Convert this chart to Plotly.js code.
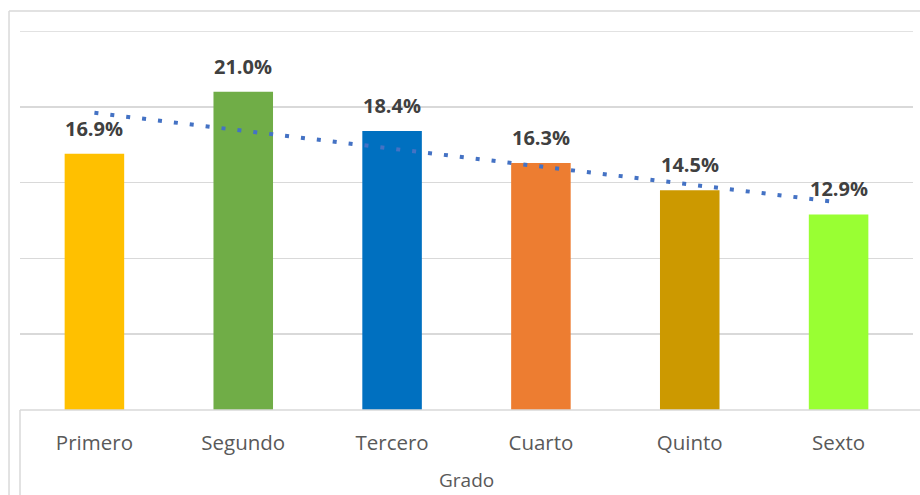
<!DOCTYPE html>
<html><head><meta charset="utf-8">
<script src="https://cdn.plot.ly/plotly-3.0.1.min.js"></script>
<style>html,body{margin:0;padding:0;background:#fff;}#chart{width:920px;height:495px;}</style>
</head><body><div id="chart"></div>
<script>
var categories = ['Primero', 'Segundo', 'Tercero', 'Cuarto', 'Quinto', 'Sexto'];
var values = [16.9, 21.0, 18.4, 16.3, 14.5, 12.9];
var barColors = ['#FFC000', '#70AD47', '#0070C0', '#ED7D31', '#CC9900', '#99FF33'];
var trendX = ['Primero', 'Sexto'];
var trendY = [19.6, 13.7];
var axisTitle = 'Grado';
var yMax = 25;

var bars = {
  type: 'bar', x: categories, y: values,
  marker: {color: barColors}, width: 0.4,
  hoverinfo: 'skip', showlegend: false
};
var trend = {
  type: 'scatter', mode: 'lines', x: trendX, y: trendY,
  line: {color: '#4472C4', width: 4, dash: '4px,12px'},
  hoverinfo: 'skip', showlegend: false
};
var annotations = categories.map(function(c, i){
  return {x: c, y: values[i], xref: 'x', yref: 'y', text: values[i].toFixed(1) + '%',
    showarrow: false, yanchor: 'bottom', yshift: 10,
    font: {family: 'Open Sans, sans-serif', size: 20, color: '#404040', weight: 'bold'}};
});
annotations.push({x: 0.5, y: 0, xref: 'paper', yref: 'paper', yanchor: 'top', yshift: -55,
  text: axisTitle, showarrow: false,
  font: {family: 'Open Sans, sans-serif', size: 19, color: '#595959'}});

var layout = {
  width: 920, height: 495,
  margin: {l: 20, r: 7, t: 31, b: 85},
  paper_bgcolor: '#ffffff', plot_bgcolor: '#ffffff',
  xaxis: {type: 'category', showgrid: false, zeroline: false, showline: false,
    ticks: '', ticklabelstandoff: 18,
    tickfont: {family: 'Open Sans, sans-serif', size: 20.5, color: '#595959'}},
  yaxis: {range: [0, yMax], dtick: 5, showticklabels: false, showgrid: true,
    gridcolor: '#D9D9D9', gridwidth: 1.5, zeroline: false, showline: false, ticks: ''},
  annotations: annotations,
  shapes: [
    {type: 'line', xref: 'paper', yref: 'y', x0: 0, x1: 1, y0: yMax, y1: yMax,
      line: {color: '#D9D9D9', width: 1.5}, layer: 'below'},
    {type: 'line', xref: 'paper', yref: 'paper', x0: -0.0123, x1: 1.02, y0: 1.0528, y1: 1.0528,
      line: {color: '#D9D9D9', width: 1.5}},
    {type: 'line', xref: 'paper', yref: 'paper', x0: -0.0123, x1: -0.0123, y0: 1.0528, y1: -0.3,
      line: {color: '#D9D9D9', width: 1.5}},
    {type: 'line', xref: 'paper', yref: 'paper', x0: 0, x1: 1.02, y0: 0, y1: 0,
      line: {color: '#D9D9D9', width: 1.5}},
    {type: 'line', xref: 'paper', yref: 'paper', x0: 0, x1: 0, y0: 0, y1: -0.3,
      line: {color: '#D9D9D9', width: 1.5}}
  ]
};
Plotly.newPlot('chart', [bars, trend], layout, {displayModeBar: false, staticPlot: true});
</script></body></html>
